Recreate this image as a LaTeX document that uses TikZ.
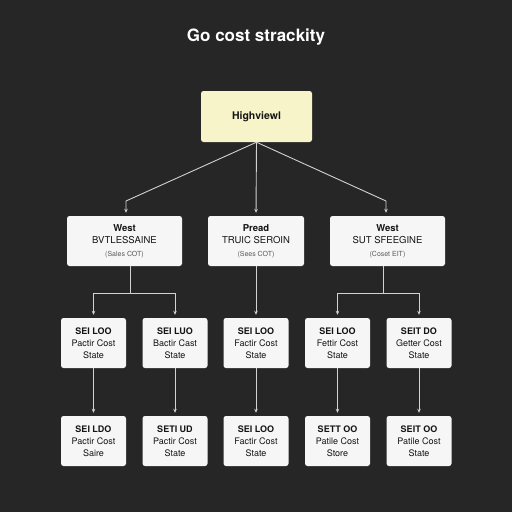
\documentclass[tikz,border=0pt]{standalone}
\usepackage{fontspec}
\setmainfont{TeX Gyre Heros}
\usetikzlibrary{arrows.meta}
\definecolor{bgdark}{HTML}{262626}
\definecolor{cream}{HTML}{F8F4C9}
\definecolor{cardgray}{HTML}{F6F6F6}
\definecolor{wire}{HTML}{D2D2D2}
\tikzset{
  card/.style={fill=cardgray,rounded corners=2.5pt,minimum height=50pt,
    inner sep=0pt,align=center,text=black!92,font=\fontsize{9}{12}\selectfont},
  topcard/.style={card,fill=cream,minimum width=111pt,minimum height=51pt,
    font=\bfseries\fontsize{10.5}{12}\selectfont},
  midcard/.style={card,font=\fontsize{9.5}{12.5}\selectfont},
  leaf/.style={card,minimum width=65pt},
  wireline/.style={draw=wire,line width=0.9pt},
  arr/.style={wireline,-{Stealth[length=4pt,width=3.5pt]},shorten >=3pt}
}
\newcommand{\subnote}[1]{{\fontsize{7}{9}\selectfont\color{black!65}#1}}
\begin{document}
\begin{tikzpicture}[x=1pt,y=-1pt]
  \fill[bgdark] (0,0) rectangle (512,512);
  \node[text=white,font=\bfseries\fontsize{17}{19}\selectfont] (title) at (256,37) {Go cost strackity};

  % top and middle row
  \node[topcard] (hv) at (256.5,116.5) {Highviewl};
  \node[midcard,minimum width=115pt] (wl) at (124.5,241) {\textbf{West}\\BVTLESSAINE\\\subnote{(Sales COT)}};
  \node[midcard,minimum width=96pt] (wm) at (256,241) {\textbf{Pread}\\TRUIC SEROIN\\\subnote{(Sees COT)}};
  \node[midcard,minimum width=115pt] (wr) at (387.5,241) {\textbf{West}\\SUT SFEEGINE\\\subnote{(Coset EIT)}};

  % leaves
  \node[leaf] (s1) at (93.5,343) {\textbf{SEI LOO}\\Pactir Cost\\State};
  \node[leaf] (s2) at (175,343) {\textbf{SEI LUO}\\Bactir Cast\\State};
  \node[leaf] (s3) at (256,343) {\textbf{SEI LOO}\\Factir Cost\\State};
  \node[leaf] (s4) at (337.5,343) {\textbf{SEI LOO}\\Fettir Cost\\State};
  \node[leaf] (s5) at (419,343) {\textbf{SEIT DO}\\Getter Cost\\State};

  \node[leaf] (t1) at (93.5,441) {\textbf{SEI LDO}\\Pactir Cost\\Saire};
  \node[leaf] (t2) at (175,441) {\textbf{SETI UD}\\Pactir Cost\\State};
  \node[leaf] (t3) at (256,441) {\textbf{SEI LOO}\\Factir Cost\\State};
  \node[leaf] (t4) at (337.5,441) {\textbf{SETT OO}\\Patile Cost\\Store};
  \node[leaf] (t5) at (419,441) {\textbf{SEIT OO}\\Patile Cost\\State};

  % connectors
  \coordinate (kl) at (126,201);
  \coordinate (kr) at (386,201);
  \coordinate (jl) at (130,293);
  \coordinate (jr) at (383,293);
  \draw[arr] (hv.south) -- (kl) -- (kl |- wl.north);
  \draw[arr] (hv.south) -- (wm.north);
  \draw[arr] (hv.south) -- (kr) -- (kr |- wr.north);
  \draw[wireline] (jl |- wl.south) -- (jl);
  \draw[wireline] (jr |- wr.south) -- (jr);
  \draw[arr] (jl) -| (s1.north);
  \draw[arr] (jl) -| (s2.north);
  \draw[arr] (wm.south) -- (s3.north);
  \draw[arr] (jr) -| (s4.north);
  \draw[arr] (jr) -| (s5.north);
  \foreach \i in {1,...,5}
    \draw[arr] (s\i.south) -- (t\i.north);
\end{tikzpicture}
\end{document}
